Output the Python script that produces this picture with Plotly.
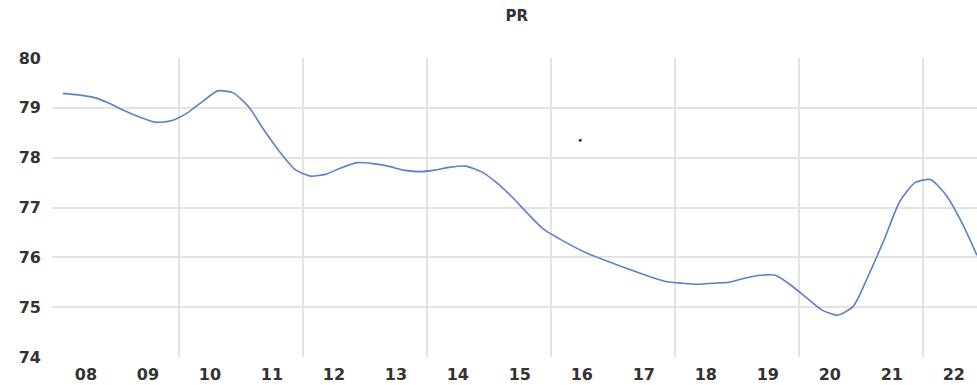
import plotly.graph_objects as go

# Quarterly PR series, 2008 Q1 through 2022 Q4
quarter_index = list(range(60))
pr_values = [
    79.29, 79.26, 79.21, 79.09,   # 2008
    78.94, 78.81, 78.71, 78.74,   # 2009
    78.89, 79.12, 79.34, 79.30,   # 2010
    79.02, 78.55, 78.12, 77.76,   # 2011
    77.63, 77.67, 77.80, 77.90,   # 2012
    77.88, 77.83, 77.75, 77.72,   # 2013
    77.75, 77.81, 77.83, 77.72,   # 2014
    77.50, 77.21, 76.88, 76.57,   # 2015
    76.38, 76.21, 76.06, 75.94,   # 2016
    75.82, 75.71, 75.60, 75.51,   # 2017
    75.48, 75.46, 75.48, 75.50,   # 2018
    75.58, 75.64, 75.64, 75.44,   # 2019
    75.19, 74.94, 74.84, 75.01,   # 2020
    75.64, 76.35, 77.11, 77.50,   # 2021
    77.56, 77.25, 76.71, 76.04,   # 2022
]

# Year labels sit in the middle of each group of four quarters
year_labels = ["08", "09", "10", "11", "12", "13", "14", "15",
               "16", "17", "18", "19", "20", "21", "22"]
year_centers = [1.5 + 4 * k for k in range(len(year_labels))]
# Vertical separators every second year boundary
separator_positions = [7.5 + 8 * k for k in range(7)]

# Isolated stray point in the plot area
stray_x = [33.4]
stray_y = [78.35]

y_ticks = [74, 75, 76, 77, 78, 79, 80]

fig = go.Figure()
fig.add_trace(go.Scatter(
    x=quarter_index, y=pr_values, mode="lines",
    line=dict(color="#5b81ca", width=1.6, shape="spline", smoothing=0.6),
    showlegend=False, hoverinfo="skip",
))
fig.add_trace(go.Scatter(
    x=stray_x, y=stray_y, mode="markers",
    marker=dict(color="#333333", size=3),
    showlegend=False, hoverinfo="skip",
))

tick_font = dict(family="DejaVu Sans", size=16, color="#333333", weight="bold")

fig.update_layout(
    width=977, height=385,
    margin=dict(l=52, r=0, t=58, b=28),
    paper_bgcolor="white", plot_bgcolor="white",
    title=dict(text="PR", x=0.529, xanchor="center", y=0.96, yanchor="middle",
               font=dict(family="DejaVu Sans", size=15, color="#333333",
                         weight="bold")),
    xaxis=dict(
        range=[-0.69, 59.0],
        tickmode="array", tickvals=year_centers, ticktext=year_labels,
        showgrid=False, zeroline=False, showline=False, ticks="",
        ticklabelstandoff=6,
        tickfont=tick_font,
        minor=dict(tickmode="array", tickvals=separator_positions,
                   showgrid=True, gridcolor="#e3e3e3", gridwidth=2, ticks=""),
    ),
    yaxis=dict(
        range=[74, 80],
        tickmode="array", tickvals=y_ticks,
        showgrid=True, gridcolor="#e3e3e3", gridwidth=1.5,
        zeroline=False, showline=False, ticks="",
        ticklabelstandoff=10,
        tickfont=tick_font,
    ),
)

fig.write_html("out.html")
